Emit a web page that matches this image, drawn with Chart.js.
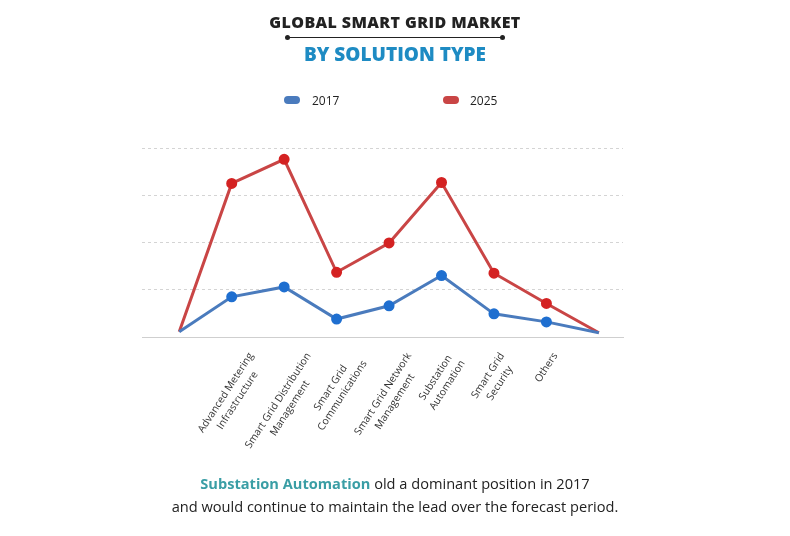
<!DOCTYPE html>
<html>
<head>
<meta charset="utf-8">
<script src="https://cdn.jsdelivr.net/npm/chart.js@4.4.1/dist/chart.umd.min.js"></script>
<style>
    body { margin: 0; background: #fff; font-family: "Open Sans", sans-serif; }
    #wrap { position: relative; width: 790px; height: 536px; overflow: hidden; }
    #chart { position: absolute; left: 0; top: 0; }
    .title1 { position: absolute; left: 0; width: 790px; top: 11px; text-align: center; font-weight: 800; font-size: 16px; letter-spacing: 0.4px; color: #222; }
    .rule { position: absolute; left: 287px; width: 216px; top: 37px; border-top: 1.5px solid #222; }
    .rule::before, .rule::after { content: ''; position: absolute; top: -3.5px; width: 5px; height: 5px; border-radius: 50%; background: #222; }
    .rule::before { left: -2px; }
    .rule::after { right: -2px; }
    .title2 { position: absolute; left: 0; width: 790px; top: 41px; text-align: center; font-weight: 800; font-size: 19px; color: #1e8bc3; }
    .leg { position: absolute; top: 92px; font-size: 12px; color: #222; }
    .pill { position: absolute; top: 4px; width: 16px; height: 8px; border-radius: 4px; }
    .note { position: absolute; left: 0; width: 790px; top: 472px; text-align: center; font-size: 14.6px; line-height: 23px; color: #222; }
    .note b { color: #3a9ea5; }
</style>
</head>
<body>
<div id="wrap">
    <canvas id="chart" width="790" height="536"></canvas>
    <div class="title1">GLOBAL SMART GRID MARKET</div>
    <div class="rule"></div>
    <div class="title2">BY SOLUTION TYPE</div>
    <div class="leg" style="left:284px"><span class="pill" style="background:#4a7bbd"></span><span style="margin-left:28px">2017</span></div>
    <div class="leg" style="left:443px"><span class="pill" style="background:#c94545"></span><span style="margin-left:27px">2025</span></div>
    <div class="note"><b>Substation Automation</b> old a dominant position in 2017<br>and would continue to maintain the lead over the forecast period.</div>
</div>
<script>
const categories = [
    '',
    ['Advanced Metering', 'Infrastructure'],
    ['Smart Grid Distribution', 'Management'],
    ['Smart Grid', 'Communications'],
    ['Smart Grid Network', 'Management'],
    ['Substation', 'Automation'],
    ['Smart Grid', 'Security'],
    'Others',
    ''
];
const values2017 = [0.11, 0.85, 1.06, 0.38, 0.66, 1.30, 0.49, 0.32, 0.09];
const values2025 = [0.11, 3.25, 3.76, 1.37, 1.99, 3.27, 1.35, 0.71, 0.09];
const yTicks = [0, 1, 2, 3, 4];

// first and last points are just line anchors, no markers
const radii = categories.map(c => (c === '' ? 0 : 4));
const toPoints = arr => arr.map((v, i) => ({ x: i, y: v }));

// rotated, centre-aligned category labels hanging under the axis
const slantLabels = {
    id: 'slantLabels',
    afterDraw(chart) {
        const xs = chart.scales.x;
        const c = chart.ctx;
        const ang = 57 * Math.PI / 180;
        const lh = 14;
        const top = xs.top + 13;
        c.save();
        c.font = '10.3px "Open Sans"';
        c.fillStyle = '#333';
        c.textAlign = 'center';
        c.textBaseline = 'middle';
        categories.forEach((lab, i) => {
            if (!lab) return;
            const lines = Array.isArray(lab) ? lab : [lab];
            const w = Math.max(...lines.map(l => c.measureText(l).width));
            const h = lines.length * lh;
            const boxH = w * Math.sin(ang) + h * Math.cos(ang);
            c.save();
            c.translate(xs.getPixelForValue(i), top + boxH / 2);
            c.rotate(-ang);
            lines.forEach((l, k) => c.fillText(l, 0, -h / 2 + lh * (k + 0.5)));
            c.restore();
        });
        c.restore();
    }
};

const ctx = document.getElementById('chart').getContext('2d');
new Chart(ctx, {
    type: 'line',
    data: {
        datasets: [
            {
                label: '2017',
                data: toPoints(values2017),
                borderColor: '#4a7bbd',
                borderWidth: 3,
                pointBackgroundColor: '#1f6fd0',
                pointBorderColor: '#1f6fd0',
                pointRadius: radii,
                tension: 0
            },
            {
                label: '2025',
                data: toPoints(values2025),
                borderColor: '#c94545',
                borderWidth: 3,
                pointBackgroundColor: '#d42222',
                pointBorderColor: '#d42222',
                pointRadius: radii,
                tension: 0
            }
        ]
    },
    options: {
        responsive: false,
        animation: false,
        layout: { padding: { left: 142, right: 167, top: 148, bottom: 99 } },
        plugins: { legend: { display: false }, tooltip: { enabled: false } },
        scales: {
            x: {
                type: 'linear',
                min: -0.71,
                max: 8.46,
                afterFit: s => { s.height = 100; },
                grid: { display: false },
                border: { display: true, color: '#cfcfcf', width: 1 },
                ticks: { display: false, stepSize: 1 }
            },
            y: {
                min: yTicks[0],
                max: yTicks[yTicks.length - 1],
                afterFit: s => { s.width = 0; },
                ticks: { display: false, stepSize: 1 },
                border: { display: false, dash: [3, 3] },
                grid: {
                    drawTicks: false,
                    color: c => (c.tick.value === 0 ? 'rgba(0,0,0,0)' : '#d4d4d4')
                }
            }
        }
    },
    plugins: [slantLabels]
});
</script>
</body>
</html>
